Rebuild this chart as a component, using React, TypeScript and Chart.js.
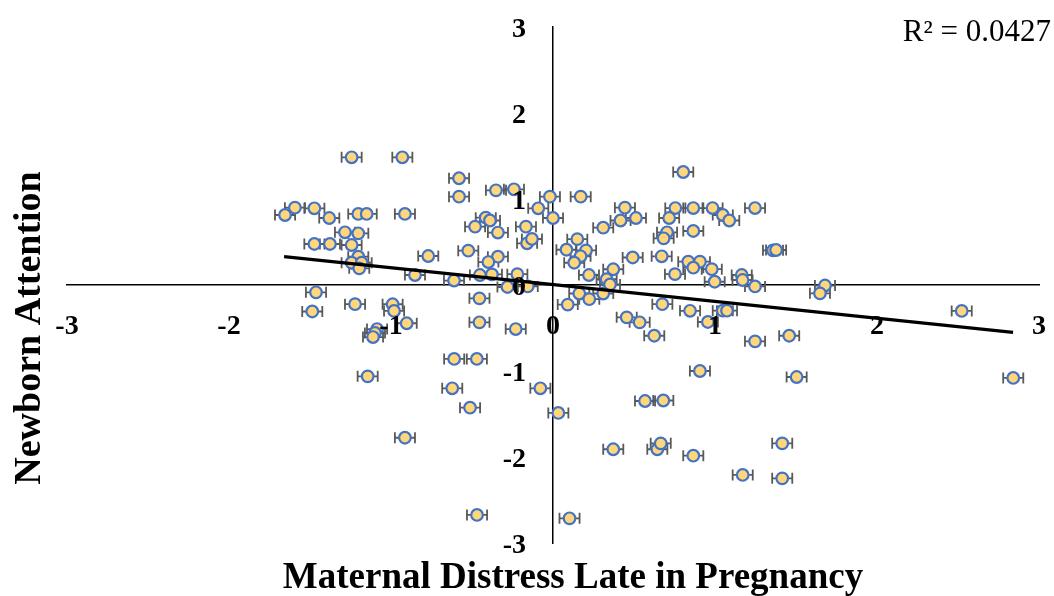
import { useEffect, useRef } from "react";
import { Chart, registerables } from "chart.js";

Chart.register(...registerables);

// Maternal distress late in pregnancy (x) for each infant
const distressX = [
  -1.243, -0.93, -0.58, -0.58, -0.352, -0.241, -0.019, 0.171, -0.091, 0.0,
  -1.654, -1.593, -1.473, -1.381, -1.202, -1.15, -0.914, -1.284, -1.202, -1.473,
  -1.377, -1.243, -1.202, -1.243, -1.181, -1.196, -0.77, -0.852, -0.611, -0.481,
  -0.415, -0.389, -0.34, -0.167, -0.16, -0.13, -0.523, -0.34, -0.399, -0.451,
  -0.377, -0.22, -0.281, -0.156, -1.463, -1.486, -1.222, -0.99, -0.981, -0.903,
  -1.086, -1.099, -1.111, -0.454, -0.454, -0.23, -0.61, -0.47, -1.144, -0.622,
  -0.078, -0.512, -0.914, -0.469, 0.033, 0.102, 0.804, 0.444, 0.417, 0.512,
  0.31, 0.755, 0.866, 0.985, 1.247, 0.717, 1.048, 1.088, 0.704, 0.683,
  0.866, 0.15, 0.083, 0.204, 0.17, 0.131, 0.492, 0.671, 1.358, 1.377,
  0.835, 0.907, 0.866, 0.98, 0.372, 0.331, 0.352, 0.222, 0.753, 1.165,
  1.17, 0.998, 1.247, 1.679, 1.648, 0.162, 0.224, 0.31, 0.091, 0.675,
  0.846, 1.048, 1.074, 0.455, 0.535, 0.956, 0.625, 1.247, 1.458, 2.523,
  0.372, 0.568, 0.681, 0.644, 0.665, 0.907, 0.866, 1.415, 1.171, 1.415,
  1.504, 2.841,
];

// Newborn attention (y) for each infant
const attentionY = [
  1.485, 1.485, 1.241, 1.027, 1.101, 1.113, 1.027, 1.027, 0.892, 0.779,
  0.814, 0.899, 0.892, 0.779, 0.826, 0.826, 0.826, 0.613, 0.601, 0.477,
  0.477, 0.465, 0.329, 0.259, 0.259, 0.194, 0.337, 0.116, 0.052, 0.678,
  0.783, 0.75, 0.61, 0.678, 0.485, 0.535, 0.399, 0.329, 0.267, 0.116,
  0.124, 0.126, -0.023, -0.017, -0.085, -0.308, -0.223, -0.224, -0.302, -0.445,
  -0.512, -0.558, -0.605, -0.155, -0.434, -0.512, -0.86, -0.86, -1.062, -1.201,
  -1.201, -1.427, -1.776, -2.674, -1.488, -2.713, 1.314, 0.899, 0.75, 0.779,
  0.666, 0.895, 0.895, 0.895, 0.895, 0.779, 0.814, 0.75, 0.613, 0.543,
  0.628, 0.533, 0.41, 0.403, 0.334, 0.259, 0.32, 0.334, 0.403, 0.407,
  0.271, 0.271, 0.201, 0.184, 0.183, 0.067, 0.006, 0.116, 0.126, 0.116,
  0.058, 0.038, -0.017, -0.006, -0.097, -0.099, -0.165, -0.099, -0.228, -0.223,
  -0.3, -0.299, -0.299, -0.376, -0.434, -0.43, -0.59, -0.655, -0.59, -0.302,
  -1.91, -1.349, -1.343, -1.91, -1.841, -1.0, -1.985, -1.841, -2.209, -2.248,
  -1.07, -1.081,
];

// Horizontal error (x units) shown on every point
const xError = [0.062];

// Linear trendline end points
const trendX = [-1.66, 2.84];
const trendY = [0.33, -0.55];

const axisMin = [-3];
const axisMax = [3];

const r2Label = "R² = 0.0427";
const xTitle = "Maternal Distress Late in Pregnancy";
const yTitle = "Newborn Attention";

const SERIF = "'Liberation Serif', 'Times New Roman', serif";

const errorBarsPlugin = {
  id: "errorBars",
  beforeDatasetsDraw(chart: any) {
    const { ctx, scales } = chart;
    const xs = scales.x;
    const ys = scales.y;
    ctx.save();
    ctx.strokeStyle = "#595959";
    ctx.lineWidth = 1.8;
    distressX.forEach((vx, i) => {
      const py = ys.getPixelForValue(attentionY[i]);
      const l = xs.getPixelForValue(vx - xError[0]);
      const r = xs.getPixelForValue(vx + xError[0]);
      ctx.beginPath();
      ctx.moveTo(l, py);
      ctx.lineTo(r, py);
      ctx.moveTo(l, py - 5.5);
      ctx.lineTo(l, py + 5.5);
      ctx.moveTo(r, py - 5.5);
      ctx.lineTo(r, py + 5.5);
      ctx.stroke();
    });
    ctx.restore();
  },
};

// Move y tick labels left of the crossing axis (Chart.js places them on the line)
const yLabelGapPlugin = {
  id: "yLabelGap",
  beforeDraw(chart: any) {
    const ys = chart.scales.y;
    const items = ys.getLabelItems(chart.chartArea);
    items.forEach((it: any) => {
      if (!it.__shifted) {
        it.options.translation[0] -= 27;
        it.options.translation[1] += 3;
        it.__shifted = true;
      }
    });
  },
};

const textPlugin = {
  id: "chartTexts",
  afterDraw(chart: any) {
    const { ctx } = chart;
    ctx.save();
    ctx.fillStyle = "#000";
    ctx.textAlign = "center";
    ctx.textBaseline = "middle";
    ctx.font = `bold 37px ${SERIF}`;
    ctx.fillText(xTitle, 573, 578);
    ctx.save();
    ctx.translate(30, 328);
    ctx.rotate(-Math.PI / 2);
    ctx.font = `bold 38px ${SERIF}`;
    ctx.fillText(yTitle, 0, 0);
    ctx.restore();
    ctx.font = `31px ${SERIF}`;
    ctx.textAlign = "right";
    ctx.fillText(r2Label, 1051, 33);
    ctx.restore();
  },
};

const zeroPadding = (scale: any) => {
  scale.paddingLeft = 0;
  scale.paddingRight = 0;
  scale.paddingTop = 0;
  scale.paddingBottom = 0;
};

export default function App() {
  const canvasRef = useRef<HTMLCanvasElement | null>(null);

  useEffect(() => {
    if (!canvasRef.current) return;
    const points = distressX.map((x, i) => ({ x, y: attentionY[i] }));
    const trend = trendX.map((x, i) => ({ x, y: trendY[i] }));
    const tickFont = { family: SERIF, size: 28, weight: "bold" as const };
    const chart = new Chart(canvasRef.current, {
      type: "scatter",
      data: {
        datasets: [
          {
            label: "Linear trend",
            data: trend,
            showLine: true,
            borderColor: "#000000",
            borderWidth: 3.2,
            pointRadius: 0,
            fill: false,
          },
          {
            label: "Infants",
            data: points,
            pointRadius: 5.8,
            pointBorderWidth: 2.2,
            pointBackgroundColor: "#FFD77A",
            pointBorderColor: "#4472C4",
            showLine: false,
          },
        ],
      },
      options: {
        animation: false,
        responsive: true,
        maintainAspectRatio: false,
        layout: { padding: { left: 67, right: 15, top: 27, bottom: 53 } },
        plugins: {
          legend: { display: false },
          tooltip: { enabled: false },
        },
        scales: {
          x: {
            type: "linear",
            min: axisMin[0],
            max: axisMax[0],
            position: { y: 0 },
            afterFit: zeroPadding,
            grid: { display: false, drawTicks: false },
            border: { display: true, color: "#000", width: 1.5 },
            ticks: {
              stepSize: 1,
              font: tickFont,
              color: "#000",
              padding: 25,
              z: 1,
              maxRotation: 0,
            },
          },
          y: {
            type: "linear",
            min: axisMin[0],
            max: axisMax[0],
            position: { x: 0 },
            afterFit: zeroPadding,
            grid: { display: false, drawTicks: false },
            border: { display: true, color: "#000", width: 1.5 },
            ticks: {
              stepSize: 1,
              font: tickFont,
              color: "#000",
              padding: 0,
              z: 1,
            },
          },
        },
      },
      plugins: [errorBarsPlugin, yLabelGapPlugin, textPlugin],
    });
    return () => chart.destroy();
  }, []);

  return (
    <div style={{ position: "absolute", left: 0, top: 0, width: 1054, height: 596, background: "#fff" }}>
      <canvas ref={canvasRef} />
    </div>
  );
}
